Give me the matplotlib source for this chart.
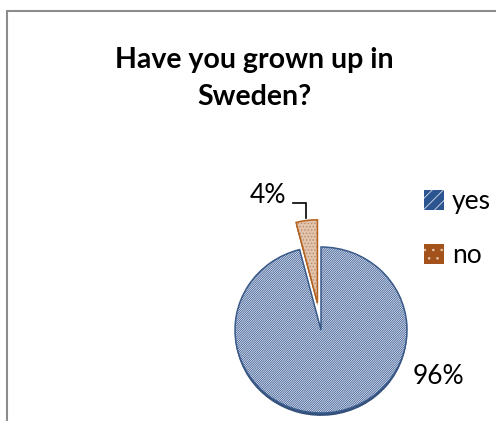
import matplotlib
matplotlib.use("Agg")
import matplotlib.pyplot as plt
from matplotlib.patches import Rectangle, Patch

plt.rcParams['font.family'] = ['Lato', 'DejaVu Sans']
plt.rcParams['hatch.linewidth'] = 0.6

# survey answers
labels = ["yes", "no"]
shares = [96, 4]
title_lines = ["Have you grown up in", "Sweden?"]

face_colors = ["#eef1f7", "#e0c4ae"]
hatch_colors = ["#3d5e96", "#c08a66"]
edge_colors = ["#3a5a8a", "#b5611c"]
rim_colors = ["#34507a", "#8a4a1a"]
hatches = ["/" * 15, "." * 5]
explode = [0, 0.33]

W, H = 496, 421
fig = plt.figure(figsize=(W / 100, H / 100), dpi=100)

# gray chart frame, open to the right and bottom
fig.add_artist(Rectangle((6.5 / W, -0.1), 1.2, 1 - 10.5 / H + 0.1,
                         transform=fig.transFigure, fill=False,
                         edgecolor="#8c8c8c", linewidth=1.5))

fig.text(254 / W, 1 - 68 / H, title_lines[0], ha="center", va="baseline",
         fontsize=20.5, fontweight="bold")
fig.text(254 / W, 1 - 105 / H, title_lines[1], ha="center", va="baseline",
         fontsize=20.5, fontweight="bold")

# pie axes: 86 px per unit across, 83 px per unit down (slight tilt)
cx, cy = 321, 330
xl, yl = (-1.5, 1.5), (-1.6, 2.0)
ax = fig.add_axes([(cx + xl[0] * 86) / W, (H - cy + yl[0] * 83) / H,
                   (xl[1] - xl[0]) * 86 / W, (yl[1] - yl[0]) * 83 / H])

pie_kw = dict(startangle=90, counterclock=False, explode=explode, radius=1)

# darker rim underneath
rim, _ = ax.pie(shares, center=(0, -0.035), colors=rim_colors, **pie_kw)
for w in rim:
    w.set_linewidth(0)

fill, _ = ax.pie(shares, **pie_kw)
for w, fc, hc, h in zip(fill, face_colors, hatch_colors, hatches):
    w.set_facecolor(fc)
    w.set_edgecolor(hc)
    w.set_hatch(h)
    w.set_linewidth(0)

outline, _ = ax.pie(shares, **pie_kw)
for w, ec in zip(outline, edge_colors):
    w.set_facecolor("none")
    w.set_edgecolor(ec)
    w.set_linewidth(1.1)

ax.set_aspect("auto")
ax.set_xlim(*xl)
ax.set_ylim(*yl)
ax.axis("off")

total = sum(shares)
pct = [f"{v / total * 100:.0f}%" for v in shares]
ax.text(1.36, -0.56, pct[0], ha="center", va="center", fontsize=19)
ax.text(-0.62, 1.62, pct[1], ha="center", va="center", fontsize=19)
ax.plot([-0.326, -0.174, -0.174], [1.53, 1.53, 1.35], color="black",
        linewidth=1.2, solid_joinstyle="miter")

handles = [Patch(facecolor="#2b5490", edgecolor="#d9e1ee", hatch="///", linewidth=0),
           Patch(facecolor="#a3521c", edgecolor="#e8c7ad", hatch="..", linewidth=0)]
fig.legend(handles, labels, loc="upper left",
           bbox_to_anchor=(424 / W, 1 - 189 / H), frameon=False,
           fontsize=19, handlelength=0.76, handleheight=0.76,
           handletextpad=0.3, labelspacing=1.1, borderpad=0,
           borderaxespad=0)

fig.savefig("out.png", dpi=100)
